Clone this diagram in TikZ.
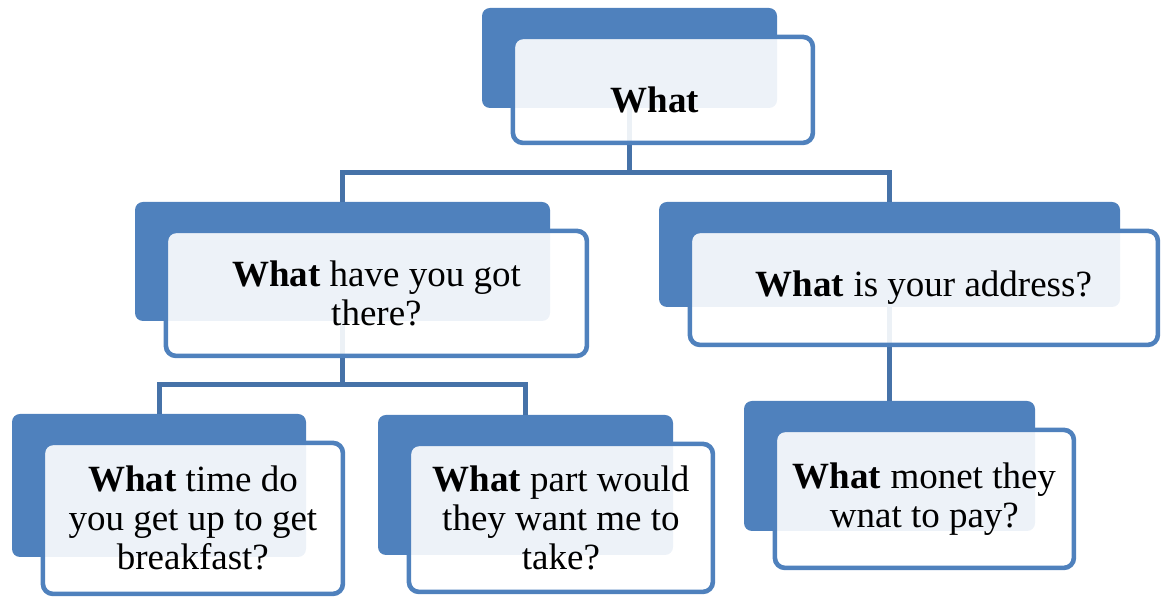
\documentclass[tikz,border=0pt]{standalone}
\usepackage{fontspec}
\setmainfont{Liberation Serif}
\usepackage{tikz}
\usetikzlibrary{positioning}
\definecolor{boxblue}{HTML}{4F81BD}
\definecolor{linkblue}{HTML}{4672A8}
\tikzset{backbox/.style={rectangle, rounded corners=4pt, fill=boxblue, inner sep=0pt}}
\tikzset{frontbox/.style={rectangle, rounded corners=5pt, draw=boxblue, line width=2.3pt, fill=white, fill opacity=0.9, text opacity=1, inner sep=0pt, align=center, font=\fontsize{18.5}{19.5}\selectfont}}
\tikzset{labeltext/.style={inner sep=0pt, font=\fontsize{18.5}{19.5}\selectfont}}
\tikzset{linkline/.style={draw=linkblue, line width=2.5pt}}

\begin{document}
\begin{tikzpicture}[x=0.5pt, y=-0.5pt]
    \useasboundingbox (0,0) rectangle (1168,597);

    \node[backbox, minimum width=147.5pt, minimum height=50pt]    (topback)     at (629.5,58)   {};
    \node[backbox, minimum width=207.5pt, minimum height=59.5pt]  (haveback)    at (342.5,261.5) {};
    \node[backbox, minimum width=230.5pt, minimum height=52.5pt]  (addrback)    at (889.5,254.5) {};
    \node[backbox, minimum width=147pt,   minimum height=71.5pt]  (timeback)    at (159,485.5)  {};
    \node[backbox, minimum width=147.5pt, minimum height=70pt]    (partback)    at (525.5,485)  {};
    \node[backbox, minimum width=145.5pt, minimum height=65pt]    (moneyback)   at (889.5,466)  {};

    \draw[linkline] (topback.south) -- ++(0,64) -| (haveback.north);
    \draw[linkline] (topback.south) -- ++(0,64) -| (addrback.north);
    \draw[linkline] (haveback.south) -- ++(0,63) -| (timeback.north);
    \draw[linkline] (haveback.south) -- ++(0,63) -| (partback.north);
    \draw[linkline] (addrback.south) -- (moneyback.north);

    \node[frontbox, minimum width=150pt,   minimum height=53pt]   (topfront)    [below right=13.5pt and 14.5pt of topback.north west]   {};
    \node[frontbox, minimum width=210.5pt, minimum height=62.5pt] (havefront)   [below right=13.5pt and 14.5pt of haveback.north west]  {\textbf{What} have you got\\there?};
    \node[frontbox, minimum width=234pt,   minimum height=57pt]   (addrfront)   [below right=13.5pt and 14.5pt of addrback.north west]  {\textbf{What} is your address?};
    \node[frontbox, minimum width=150pt,   minimum height=75.5pt] (timefront)   [below right=13.5pt and 14.5pt of timeback.north west]  {\textbf{What} time do\\you get up to get\\breakfast?};
    \node[frontbox, minimum width=152pt,   minimum height=74pt]   (partfront)   [below right=13.5pt and 14.5pt of partback.north west]  {\textbf{What} part would\\they want me to\\take?};
    \node[frontbox, minimum width=149.5pt, minimum height=69pt]   (moneyfront)  [below right=13.5pt and 14.5pt of moneyback.north west] {\textbf{What} monet they\\wnat to pay?};

    \node[labeltext]  (toplabel)  at (655,100)  {\textbf{What}};
\end{tikzpicture}
\end{document}
